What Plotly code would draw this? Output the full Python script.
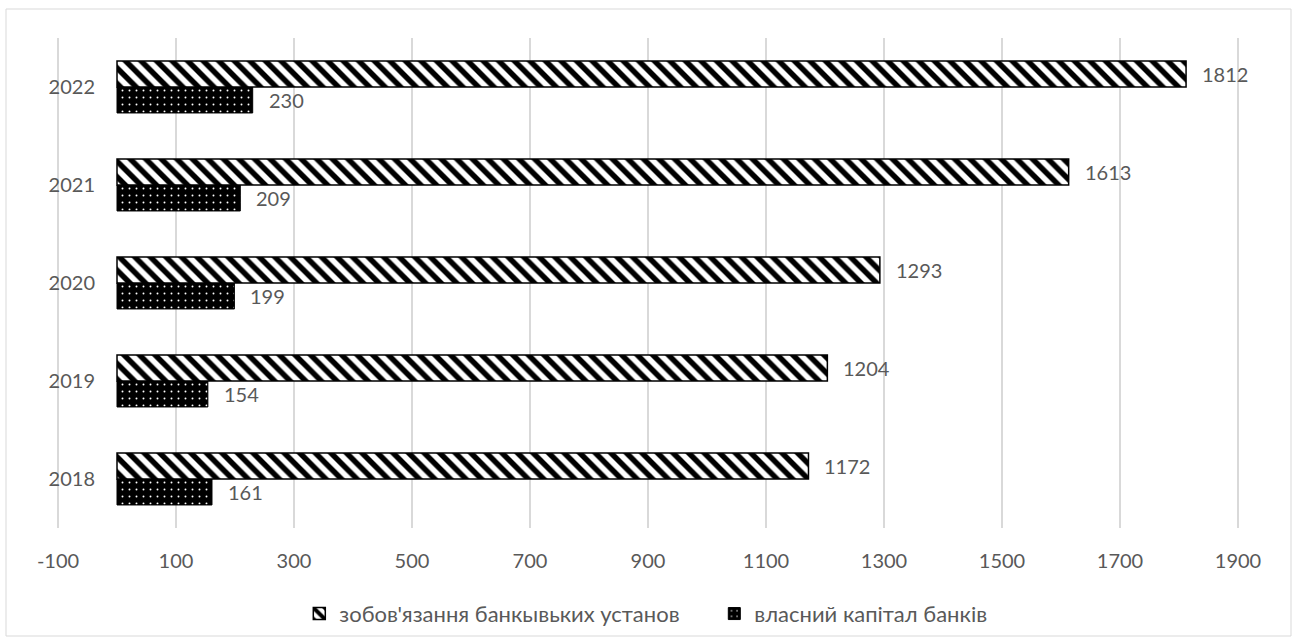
import plotly.graph_objects as go

years = ["2018", "2019", "2020", "2021", "2022"]
liabilities = [1172, 1204, 1293, 1613, 1812]
equity = [161, 154, 199, 209, 230]

name_liabilities = "зобов'язання банкывьких установ"
name_equity = "власний капітал банків"

x_ticks = [-100, 100, 300, 500, 700, 900, 1100, 1300, 1500, 1700, 1900]

TEXT = "#595959"
GRID = "#d9d9d9"
FONT = "Lato"
FS = 20

BARGAP = 0.47
half = (1 - BARGAP) / 4  # centre offset of each bar inside a year group

X_MIN, X_MAX = -103.4, 1903.4  # a little slack so the end gridlines stay drawn

fig = go.Figure()

# equity drawn first so it sits at the bottom of each year group
fig.add_trace(go.Bar(
    y=years, x=equity, name=name_equity, orientation="h",
    marker=dict(
        color="black",
        line=dict(color="black", width=1),
        pattern=dict(shape=".", fgcolor="white", bgcolor="black",
                     size=7, solidity=0.06, fillmode="replace"),
    ),
))
fig.add_trace(go.Bar(
    y=years, x=liabilities, name=name_liabilities, orientation="h",
    marker=dict(
        color="white",
        line=dict(color="black", width=1.5),
        pattern=dict(shape="\\", fgcolor="black", bgcolor="white",
                     size=11, solidity=0.5, fillmode="replace"),
    ),
))

# value labels beside the bar ends
annotations = []
for i, (liab, eq) in enumerate(zip(liabilities, equity)):
    for val, off in ((liab, half), (eq, -half)):
        annotations.append(dict(
            x=val, y=i + off, xref="x", yref="y", text=str(val),
            showarrow=False, xanchor="left", yanchor="middle", xshift=14,
            font=dict(color=TEXT, size=FS, family=FONT),
        ))

W = 1296 - 56 - 56
fig.update_layout(
    width=1296, height=644,
    margin=dict(l=56, r=56, t=38, b=116, autoexpand=False),
    paper_bgcolor="white", plot_bgcolor="white",
    barmode="group", bargap=BARGAP, bargroupgap=0,
    font=dict(family=FONT, color=TEXT, size=FS),
    showlegend=True,
    legend=dict(orientation="h", x=0.556, xanchor="center", y=-0.175, yanchor="middle",
                traceorder="reversed", font=dict(size=22, color=TEXT, family=FONT),
                itemwidth=30, entrywidth=370, entrywidthmode="pixels"),
    xaxis=dict(range=[X_MIN, X_MAX], tickvals=x_ticks, ticktext=[str(v) for v in x_ticks],
               showgrid=True, gridcolor=GRID, gridwidth=2, zeroline=False,
               showline=False, ticks="", automargin=False, ticklabelstandoff=19,
               tickfont=dict(size=FS, color=TEXT)),
    yaxis=dict(type="category", categoryorder="array", categoryarray=years,
               anchor="free", position=(0 - X_MIN) / (X_MAX - X_MIN),
               showgrid=False, zeroline=False, showline=False, ticks="",
               automargin=False, ticklabelstandoff=22,
               tickfont=dict(size=FS, color=TEXT)),
    annotations=annotations,
    shapes=[dict(type="rect", xref="paper", yref="paper",
                 x0=-50 / W, x1=1 + 51 / W, y0=-108 / 490, y1=1 + 29 / 490,
                 line=dict(color=GRID, width=1), fillcolor="rgba(0,0,0,0)", layer="below")],
)

fig.write_html("out.html")
